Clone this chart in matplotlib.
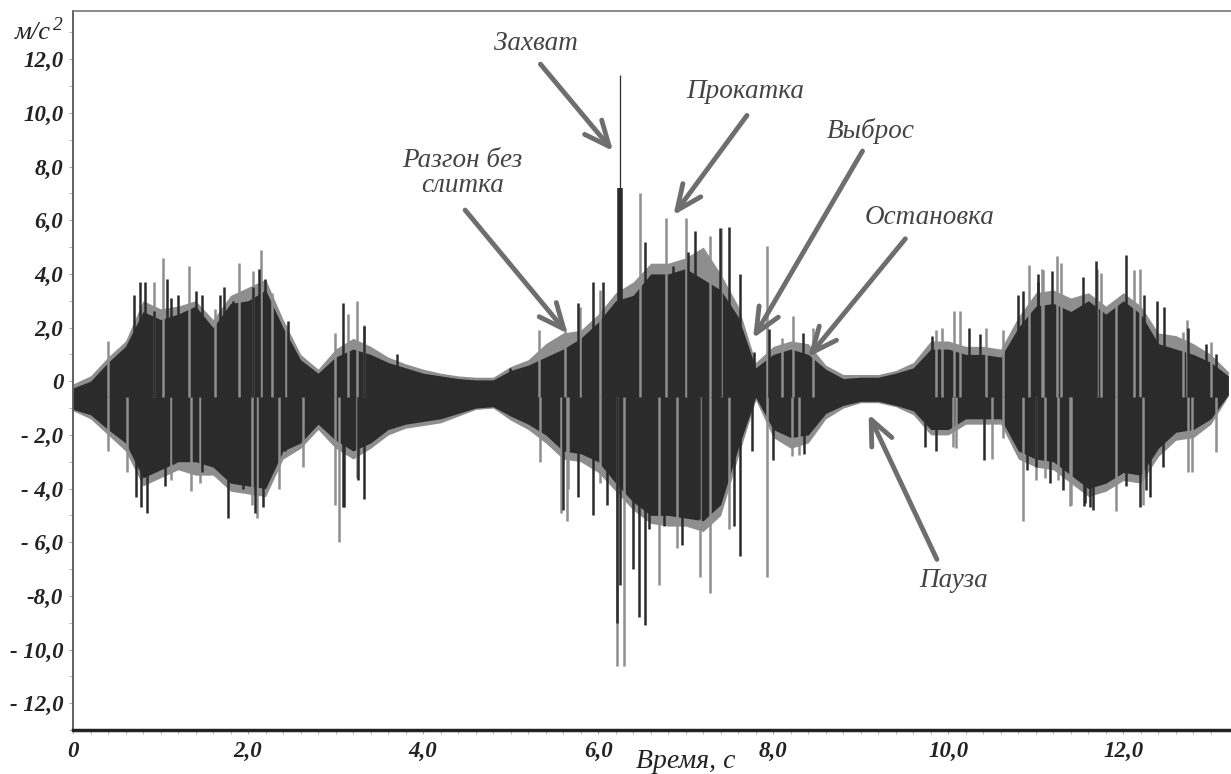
import numpy as np
import matplotlib
matplotlib.use("Agg")
from matplotlib import pyplot as plt

# envelope of the signal, read every 0.2 s
t_env = np.round(np.arange(0, 13.21, 0.2), 2)
dk_hi = [-0.25, 0.0, 0.7, 1.3, 2.6, 2.3, 2.5, 2.8, 2.0, 2.9, 3.0, 3.4, 2.0, 0.8, 0.3, 0.9, 1.2, 1.0,
         0.7, 0.5, 0.3, 0.2, 0.1, 0.05, 0.05, 0.4, 0.6, 0.9, 1.2, 1.6, 2.2, 3.0, 3.2, 4.0, 4.0, 4.2,
         3.8, 3.4, 2.4, 0.5, 1.0, 1.2, 1.0, 0.45, 0.1, 0.15, 0.15, 0.3, 0.5, 1.2, 1.2, 1.0, 1.0, 0.9,
         2.0, 2.8, 2.9, 2.6, 3.0, 2.5, 3.0, 2.5, 1.4, 1.2, 1.0, 0.7, 0.2]
dk_lo = [-1.05, -1.25, -1.8, -2.3, -3.6, -3.3, -3.0, -3.0, -3.2, -3.8, -3.9, -4.0, -2.6, -2.3, -1.6,
         -2.2, -2.6, -2.3, -1.8, -1.6, -1.5, -1.4, -1.2, -1.0, -0.95, -1.3, -1.6, -2.0, -2.6, -2.7,
         -3.0, -3.8, -4.5, -5.0, -5.0, -5.1, -5.2, -4.6, -2.5, -0.6, -1.8, -2.1, -2.0, -1.2, -0.9,
         -0.75, -0.75, -0.9, -1.1, -1.8, -1.8, -1.4, -1.4, -1.4, -2.6, -2.9, -3.0, -3.5, -4.0, -3.8,
         -3.4, -3.5, -2.5, -1.9, -1.8, -1.4, -0.5]
gr_hi = [-0.1, 0.2, 0.9, 1.5, 3.0, 2.7, 2.8, 3.0, 2.3, 3.2, 3.5, 3.8, 2.3, 1.0, 0.45, 1.2, 1.6, 1.3,
         0.9, 0.65, 0.45, 0.3, 0.2, 0.15, 0.15, 0.55, 0.8, 1.4, 1.8, 1.9, 2.5, 3.3, 3.7, 4.4, 4.4, 4.6,
         5.0, 4.0, 2.8, 0.7, 1.3, 1.5, 1.4, 0.6, 0.25, 0.25, 0.25, 0.4, 0.7, 1.5, 1.5, 1.3, 1.3, 1.2,
         2.4, 3.3, 3.4, 3.1, 3.3, 2.8, 3.3, 2.8, 1.8, 1.7, 1.4, 1.0, 0.35]
gr_lo = [-1.1, -1.4, -2.0, -2.6, -3.9, -3.6, -3.3, -3.5, -3.5, -4.1, -4.2, -4.3, -2.9, -2.5, -1.8,
         -2.5, -2.9, -2.5, -2.0, -1.75, -1.65, -1.55, -1.3, -1.05, -1.0, -1.45, -1.8, -2.3, -2.9, -3.0,
         -3.4, -4.1, -4.8, -5.3, -5.4, -5.4, -5.6, -5.0, -2.8, -0.7, -2.1, -2.5, -2.3, -1.4, -1.0,
         -0.8, -0.8, -0.95, -1.25, -2.0, -2.0, -1.6, -1.6, -1.6, -2.9, -3.2, -3.3, -3.8, -4.3, -4.1,
         -3.7, -3.8, -2.8, -2.2, -2.1, -1.6, -0.55]

# single peaks, gray and dark, up and down
gup_t = [0.40, 0.93, 1.03, 1.33, 1.62, 1.90, 2.06, 2.15, 2.27, 2.43, 2.99, 3.14, 3.25, 3.32, 5.32,
         5.62, 5.79, 6.02, 6.48, 6.78, 7.00, 7.28, 7.40, 7.93, 8.10, 8.23, 8.45, 9.86, 9.93, 10.07,
         10.13, 10.43, 10.62, 10.92, 11.07, 11.08, 11.24, 11.29, 11.70, 11.75, 11.92, 12.12, 12.19,
         12.68, 12.73, 13.00]
gup_v = [1.5, 3.7, 4.6, 4.3, 2.7, 4.4, 4.1, 4.9, 3.3, 2.1, 1.8, 2.5, 3.0, 2.1, 1.9,
         2.0, 2.75, 3.4, 7.0, 6.1, 6.1, 5.4, 5.7, 5.05, 1.6, 2.45, 2.0, 1.9, 2.0, 2.6,
         2.6, 2.0, 1.9, 4.35, 4.2, 4.15, 4.65, 4.4, 4.2, 4.05, 2.95, 4.15, 4.2,
         1.85, 2.3, 1.45]
dup_t = [0.70, 0.76, 0.82, 0.93, 1.07, 1.12, 1.20, 1.41, 1.47, 1.68, 1.73, 1.83, 2.06, 2.13, 2.19,
         2.34, 2.46, 3.09, 3.33, 3.70, 4.99, 5.77, 5.94, 6.06, 6.53, 6.86, 7.03, 7.11, 7.39, 7.49,
         7.62, 7.78, 7.95, 8.34, 9.81, 10.24, 10.36, 10.80, 10.85, 11.02, 11.03, 11.18, 11.54,
         11.69, 12.03, 12.24, 12.38, 12.47, 12.74, 12.95, 13.06]
dup_v = [3.2, 3.7, 3.7, 2.6, 3.8, 3.1, 3.2, 3.35, 3.2, 3.2, 3.5, 3.0, 3.5, 4.2, 3.8,
         1.8, 2.25, 2.9, 2.05, 1.0, 0.5, 2.9, 3.7, 3.7, 5.2, 4.3, 4.8, 5.6, 5.7, 5.75,
         4.0, 1.1, 1.95, 1.8, 1.7, 2.0, 1.75, 3.2, 3.35, 3.7, 4.0, 4.1, 3.9,
         4.5, 4.7, 3.2, 3.0, 2.75, 2.0, 1.4, 1.0]
gdn_t = [0.40, 0.62, 1.12, 1.35, 1.45, 2.05, 2.10, 2.35, 2.63, 2.99, 3.04, 3.25, 5.33, 5.57, 5.64,
         5.66, 6.02, 6.22, 6.30, 6.70, 6.90, 7.16, 7.28, 7.50, 7.93, 8.21, 8.30, 10.05, 10.09,
         10.50, 10.62, 10.85, 11.00, 11.10, 11.25, 11.39, 11.40, 11.92, 12.23, 12.74, 12.78, 13.06]
gdn_v = [-2.6, -3.4, -3.7, -4.1, -3.8, -4.6, -5.1, -4.0, -3.2, -4.6, -6.0, -3.6, -3.0, -4.9, -5.2,
         -4.0, -3.8, -10.6, -10.6, -7.6, -6.2, -7.3, -7.9, -5.5, -7.3, -2.8, -2.75, -2.45, -2.5,
         -2.9, -2.1, -5.2, -3.7, -3.6, -3.7, -4.65, -4.6, -4.85, -4.6, -3.4, -3.4, -2.65]
ddn_t = [0.72, 0.78, 0.85, 1.05, 1.14, 1.47, 1.77, 1.94, 2.08, 2.17, 2.42, 3.09, 3.10, 3.26, 3.33,
         5.60, 5.77, 5.94, 6.10, 6.22, 6.25, 6.40, 6.47, 6.53, 6.58, 6.75, 6.96, 7.15, 7.55, 7.62,
         7.76, 8.00, 8.35, 9.73, 9.86, 10.41, 10.90, 11.00, 11.16, 11.31, 11.55, 11.56, 11.62,
         11.65, 11.82, 12.03, 12.19, 12.26, 12.30, 12.45]
ddn_v = [-4.3, -4.7, -4.9, -3.9, -3.1, -3.4, -5.1, -4.0, -4.9, -4.7, -2.6, -4.7, -4.7, -3.7, -4.4,
         -4.8, -4.3, -5.0, -4.6, -9.0, -7.6, -7.0, -8.8, -9.1, -5.5, -5.4, -6.1, -5.15, -5.4, -6.5,
         -2.6, -2.95, -2.7, -2.45, -2.6, -2.95, -3.3, -3.2, -3.8, -4.05, -4.65, -4.55, -4.7,
         -4.8, -2.7, -3.9, -4.7, -4.05, -4.3, -3.2]
grip_t, grip_v, grip_line = 6.25, 7.2, 11.4

yticks = [12, 10, 8, 6, 4, 2, 0, -2, -4, -6, -8, -10, -12]
ylabels = ["12,0", "10,0", "8,0", "6,0", "4,0", "2,0", "0", "- 2,0", "- 4,0", "- 6,0", "-8,0",
           "- 10,0", "- 12,0"]
xticks = [0, 2, 4, 6, 8, 10, 12]
xlabels = ["0", "2,0", "4,0", "6,0", "8,0", "10,0", "12,0"]

# label text, text position, arrow tail, arrow head
notes = [("Захват", (5.29, 12.59), (5.34, 11.82), (6.17, 8.58)),
         ("Прокатка", (7.68, 10.79), (7.70, 9.91), (6.86, 6.19)),
         ("Разгон без\nслитка", (4.45, 7.75), (4.48, 6.38), (5.65, 1.78)),
         ("Выброс", (9.11, 9.32), (9.02, 8.58), (7.77, 1.60)),
         ("Остановка", (9.79, 6.12), (9.51, 5.31), (8.40, 0.90)),
         ("Пауза", (10.06, -7.41), (9.87, -6.64), (9.09, -1.23))]

base = -0.6
dark = "#2b2b2b"
gray = "#8e8e8e"
serif = dict(family="Liberation Serif", style="italic")

fig = plt.figure(figsize=(12.31, 7.74), dpi=100)
ax = fig.add_axes([73 / 1231, 1 - 730 / 774, 1 - 73 / 1231, (730 - 11) / 774])

ax.fill_between(t_env, gr_lo, gr_hi, color=gray, lw=0)
ax.vlines(gup_t, base, gup_v, color=gray, lw=1.8)
ax.vlines(gdn_t, base, gdn_v, color=gray, lw=1.8)
ax.fill_between(t_env, dk_lo, dk_hi, color=dark, lw=0)
ax.vlines(dup_t, base, dup_v, color=dark, lw=1.8)
ax.vlines(ddn_t, base, ddn_v, color=dark, lw=1.8)
ax.vlines([grip_t], base, [grip_v], color=dark, lw=4)
ax.vlines([grip_t], base, [grip_line], color=dark, lw=0.9)

for txt, xy_txt, tail, head in notes:
    ax.annotate("", xy=head, xytext=tail,
                arrowprops=dict(arrowstyle="->,head_length=0.9,head_width=0.4",
                                color="#6e6e6e", lw=3.5, mutation_scale=20,
                                shrinkA=0, shrinkB=0))
    ax.text(xy_txt[0], xy_txt[1], txt, ha="center", va="center", fontsize=19.5,
            color="#444444", linespacing=1.0, **serif)

ax.set_xlim(0, 13.23)
ax.set_ylim(-12.63, 13.8)
ax.set_yticks(yticks)
ax.set_yticklabels(ylabels, fontsize=16.5, weight="bold", **serif)
ax.set_xticks(xticks)
ax.set_xticklabels(xlabels, fontsize=16.5, weight="bold", **serif)
ax.set_xticks(np.arange(0, 13.2, 0.2), minor=True)
ax.set_yticks(np.arange(-13, 14, 1), minor=True)
ax.tick_params(which="both", direction="out", length=3, color="#aaaaaa", labelcolor="#222222")
ax.tick_params(axis="x", pad=5)
ax.tick_params(axis="y", pad=4)

ax.spines["right"].set_visible(False)
ax.spines["top"].set_color("#777777")
ax.spines["top"].set_linewidth(1.2)
ax.spines["left"].set_color("#555555")
ax.spines["left"].set_linewidth(1.3)
ax.spines["bottom"].set_color("#222222")
ax.spines["bottom"].set_linewidth(2.5)

fig.text(33 / 1231, 1 - 33 / 774, "м/с", ha="center", va="center", fontsize=19,
         color="#222222", **serif)
fig.text(58 / 1231, 1 - 25 / 774, "2", ha="center", va="center", fontsize=14,
         color="#222222", **serif)
fig.text(686 / 1231, 1 - 762 / 774, "Время, с", ha="center", va="center", fontsize=20,
         color="#222222", **serif)

fig.savefig("out.png", dpi=100)
